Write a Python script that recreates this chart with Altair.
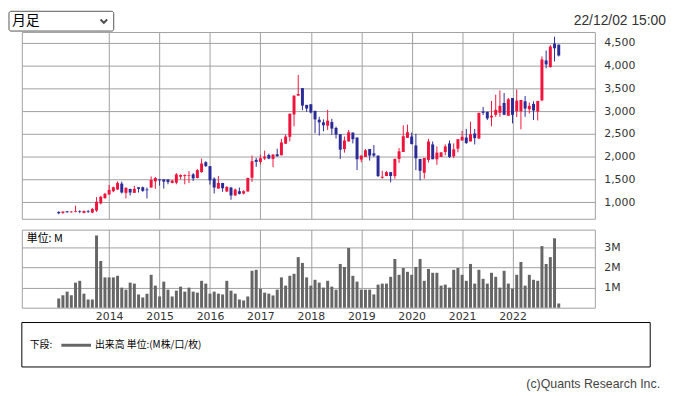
import altair as alt
import pandas as pd

# ---------------- data (monthly candles, Jan 2013 - Dec 2022) ----------------
months = [f"{y}-{m:02d}" for y in range(2013, 2023) for m in range(1, 13)]

opens = [783, 761, 797, 775, 783, 797, 761, 797, 768, 812, 971, 1087,
         1167, 1239, 1275, 1406, 1203, 1290, 1203, 1326, 1326, 1275, 1319, 1456,
         1500, 1500, 1493, 1420, 1427, 1558, 1572, 1580, 1609, 1529, 1659, 1877,
         1790, 1514, 1297, 1420, 1232, 1319, 1145, 1239, 1188, 1232, 1536, 1928,
         1884, 1957, 2036, 1949, 2051, 2029, 2283, 2435, 2928, 3341, 3507, 3138,
         3152, 3007, 2812, 2754, 2681, 2761, 2631, 2493, 2167, 2333, 2529, 2420,
         1935, 1993, 2167, 2072, 2022, 1536, 1572, 1659, 1572, 1949, 2102, 2413,
         2442, 2246, 1949, 1645, 1928, 2268, 1942, 1993, 2102, 2290, 2007, 2174,
         2355, 2420, 2333, 2507, 2399, 2993, 2986, 2862, 2920, 2964, 3181, 2899,
         3290, 3000, 3000, 3218, 3044, 3160, 2993, 3239, 4116, 3971, 4486, 4464]
highs = [797, 797, 804, 804, 920, 819, 812, 826, 870, 1109, 1138, 1203,
         1377, 1340, 1456, 1449, 1326, 1290, 1355, 1326, 1340, 1319, 1565, 1550,
         1500, 1500, 1507, 1485, 1637, 1609, 1609, 1681, 1637, 1725, 1957, 1899,
         1790, 1543, 1572, 1420, 1348, 1333, 1297, 1319, 1261, 1536, 2022, 1971,
         2043, 2130, 2065, 2058, 2174, 2391, 2486, 2950, 3348, 3797, 3507, 3138,
         3152, 3007, 2877, 2819, 3029, 2833, 2660, 2493, 2442, 2587, 2529, 2420,
         2030, 2167, 2167, 2254, 2022, 1688, 1681, 1659, 1960, 2188, 2689, 2703,
         2529, 2500, 1949, 1971, 2391, 2333, 2225, 2094, 2268, 2355, 2290, 2384,
         2565, 2609, 2768, 2609, 2964, 3094, 2986, 3225, 3362, 3457, 3399, 3290,
         3290, 3478, 3246, 3333, 3188, 3218, 3225, 4203, 4334, 4457, 4638, 4464]
lows = [732, 740, 768, 768, 775, 754, 754, 761, 754, 783, 950, 1072,
        1160, 1217, 1268, 1188, 1080, 1145, 1203, 1210, 1224, 1080, 1319, 1290,
        1362, 1297, 1391, 1413, 1391, 1500, 1391, 1420, 1464, 1522, 1645, 1775,
        1384, 1188, 1297, 1225, 1225, 1051, 1138, 1167, 1167, 1232, 1442, 1775,
        1826, 1928, 1942, 1768, 2000, 2029, 2283, 2333, 2667, 3341, 3022, 2986,
        2950, 2515, 2464, 2558, 2587, 2478, 2399, 1949, 2087, 2333, 2290, 1703,
        1877, 1993, 1913, 1993, 1551, 1514, 1572, 1435, 1514, 1862, 2102, 2413,
        2270, 1703, 1478, 1515, 1870, 1942, 1819, 1993, 2029, 1971, 1971, 2094,
        2355, 2283, 2333, 2268, 2385, 2913, 2804, 2667, 2877, 2877, 2913, 2899,
        2732, 2870, 2602, 2877, 2949, 2804, 2797, 3218, 3942, 3957, 4094, 4203]
closes = [754, 790, 775, 790, 800, 783, 804, 783, 848, 1007, 1116, 1181,
          1268, 1326, 1420, 1210, 1312, 1210, 1290, 1290, 1246, 1260, 1485, 1529,
          1478, 1449, 1442, 1471, 1609, 1594, 1594, 1594, 1522, 1703, 1848, 1790,
          1478, 1319, 1420, 1304, 1333, 1145, 1275, 1181, 1239, 1529, 1899, 1884,
          1964, 2000, 1957, 2043, 2007, 2312, 2442, 2942, 3341, 3377, 3123, 3058,
          2971, 2819, 2754, 2689, 2790, 2616, 2486, 2152, 2355, 2536, 2384, 1942,
          2022, 2138, 2022, 2022, 1572, 1558, 1659, 1572, 1949, 2116, 2449, 2536,
          2275, 1964, 1688, 1971, 2333, 1942, 2087, 2094, 2225, 1993, 2160, 2384,
          2435, 2297, 2493, 2406, 2964, 2964, 2841, 2899, 3029, 3116, 2920, 3261,
          2920, 3232, 3246, 3058, 3116, 3015, 3225, 4138, 4029, 4421, 4384, 4225]
volumes = [0.46, 0.62, 0.80, 0.62, 1.25, 1.34, 0.70, 0.41, 0.41, 3.60, 2.33, 1.51,
           1.51, 1.51, 1.59, 1.00, 0.90, 1.25, 1.20, 0.66, 0.51, 0.70, 1.64, 1.10,
           0.56, 1.30, 0.90, 0.56, 0.85, 1.05, 0.80, 1.00, 0.80, 0.75, 1.34, 1.20,
           0.70, 0.80, 0.70, 0.66, 1.34, 0.85, 0.70, 0.41, 0.36, 0.56, 1.84, 1.89,
           0.95, 0.75, 0.70, 0.61, 0.90, 1.51, 1.10, 1.59, 1.69, 2.52, 2.23, 1.51,
           1.10, 1.39, 1.25, 1.00, 1.34, 1.05, 0.90, 2.18, 2.03, 2.98, 1.59, 1.30,
           0.90, 0.90, 0.90, 0.66, 1.15, 1.20, 1.20, 1.54, 2.43, 1.64, 1.98, 1.79,
           1.64, 2.03, 2.43, 1.34, 1.93, 1.74, 1.74, 1.10, 1.15, 1.00, 1.89, 1.98,
           1.64, 1.34, 2.18, 1.20, 1.89, 1.44, 1.20, 1.74, 1.54, 1.00, 1.84, 1.20,
           0.95, 1.64, 2.28, 1.10, 1.64, 1.39, 1.34, 3.07, 2.18, 2.52, 3.46, 0.21]

price_ticks = [1000, 1500, 2000, 2500, 3000, 3500, 4000, 4500]
volume_ticks = [1, 2, 3]
year_labels = [2014, 2015, 2016, 2017, 2018, 2019, 2020, 2021, 2022]

df = pd.DataFrame({
    "i": list(range(len(months))),
    "month": months,
    "open": opens, "high": highs, "low": lows, "close": closes,
    "vol": volumes,
})
year_idx = [(y - 2013) * 12 for y in year_labels]

RED = "#f0143c"
BLUE = "#2b2b98"
GRID = "#a0a0a0"
LABEL_FONT = "DejaVu Sans"
JP_FONT = "Noto Sans CJK JP"

PW, PH, VH = 580, 189, 79
x_scale = alt.Scale(domain=[-8.78, 127.6], nice=False, zero=False, padding=0)
p_scale = alt.Scale(domain=[632, 4741], nice=False, zero=False, padding=0)

color = alt.condition("datum.close >= datum.open", alt.value(RED), alt.value(BLUE))

x_price_axis = alt.Axis(values=year_idx, grid=True, labels=False, ticks=False,
                        domain=False, title=None, gridColor=GRID)
p_axis = alt.Axis(orient="right", values=price_ticks, format=",d", grid=True,
                  ticks=False, tickSize=0, domain=False, labelPadding=9,
                  labelOverlap=False, title=None, gridColor=GRID)

base = alt.Chart(df)
wick = base.mark_rule(strokeWidth=1).encode(
    x=alt.X("i:Q", scale=x_scale, axis=x_price_axis),
    y=alt.Y("low:Q", scale=p_scale, axis=p_axis),
    y2="high:Q",
    color=color,
)
body = base.mark_bar(width=3).encode(
    x=alt.X("i:Q", scale=x_scale, axis=x_price_axis),
    y=alt.Y("open:Q", scale=p_scale, axis=p_axis),
    y2="close:Q",
    color=color,
)

one = pd.DataFrame({"k": [0]})
sel_box = alt.Chart(one).mark_rect(fill="white", stroke="#555", strokeWidth=1, cornerRadius=2).encode(
    x=alt.value(-13), x2=alt.value(93), y=alt.value(-21), y2=alt.value(-1))
sel_text = alt.Chart(one).mark_text(text="月足", align="left", baseline="middle",
                                    font=JP_FONT, fontSize=14, color="#000").encode(
    x=alt.value(-10), y=alt.value(-11))
chevron = alt.Chart(one).mark_point(shape="M-1,-0.5L0,0.5L1,-0.5", filled=False,
                                    stroke="#000", strokeWidth=2, size=45).encode(
    x=alt.value(83), y=alt.value(-11))
date_text = alt.Chart(one).mark_text(text="22/12/02 15:00", align="right", baseline="middle",
                                     font="Liberation Sans", fontSize=14, color="#333").encode(
    x=alt.value(652), y=alt.value(-11))

price = alt.layer(wick, body, sel_box, sel_text, chevron, date_text).properties(width=PW, height=PH)

x_vol_axis = alt.Axis(values=year_idx, grid=True, labels=True, ticks=False, tickSize=0,
                      domain=False, title=None, gridColor=GRID, labelPadding=3,
                      labelExpr="'' + (2013 + datum.value / 12)")
vol = base.mark_bar(width=3, color="#666666").encode(
    x=alt.X("i:Q", scale=x_scale, axis=x_vol_axis),
    y=alt.Y("vol:Q", scale=alt.Scale(domain=[0, 3.89], nice=False, zero=True, padding=0),
            axis=alt.Axis(orient="right", values=volume_ticks, labelExpr="datum.value + 'M'",
                          grid=True, ticks=False, tickSize=0, domain=False, labelPadding=9,
                          labelOverlap=False, title=None, gridColor=GRID)),
)
unit_text = alt.Chart(one).mark_text(text="単位: M", align="left", baseline="middle",
                                     font=JP_FONT, fontSize=11, color="#000").encode(
    x=alt.value(5), y=alt.value(9))
leg_box = alt.Chart(one).mark_rect(fill="white", stroke="#000", strokeWidth=1).encode(
    x=alt.value(0), x2=alt.value(636), y=alt.value(94), y2=alt.value(139))
leg_t1 = alt.Chart(one).mark_text(text="下段:", align="left", baseline="middle",
                                  font=JP_FONT, fontSize=10, color="#000").encode(
    x=alt.value(8), y=alt.value(117))
leg_line = alt.Chart(one).mark_rule(stroke="#666666", strokeWidth=3).encode(
    x=alt.value(40), x2=alt.value(70), y=alt.value(117))
leg_t2 = alt.Chart(one).mark_text(text="出来高 単位:(M株/口/枚)", align="left", baseline="middle",
                                  font=JP_FONT, fontSize=10, color="#000").encode(
    x=alt.value(74), y=alt.value(117))
copy_t = alt.Chart(one).mark_text(text="(c)Quants Research Inc.", align="right", baseline="middle",
                                  font="Liberation Sans", fontSize=12.5, color="#444").encode(
    x=alt.value(646), y=alt.value(156))

volume = alt.layer(vol, unit_text, leg_box, leg_t1, leg_line, leg_t2, copy_t).properties(width=PW, height=VH)

chart = alt.vconcat(price, volume, spacing=11, bounds="flush").properties(
    padding=0
).configure_view(stroke=GRID).configure_axis(
    labelFont=LABEL_FONT, labelFontSize=11, labelColor="#333"
)

chart.save("out.html", embed_options={"renderer": "svg", "actions": False})
